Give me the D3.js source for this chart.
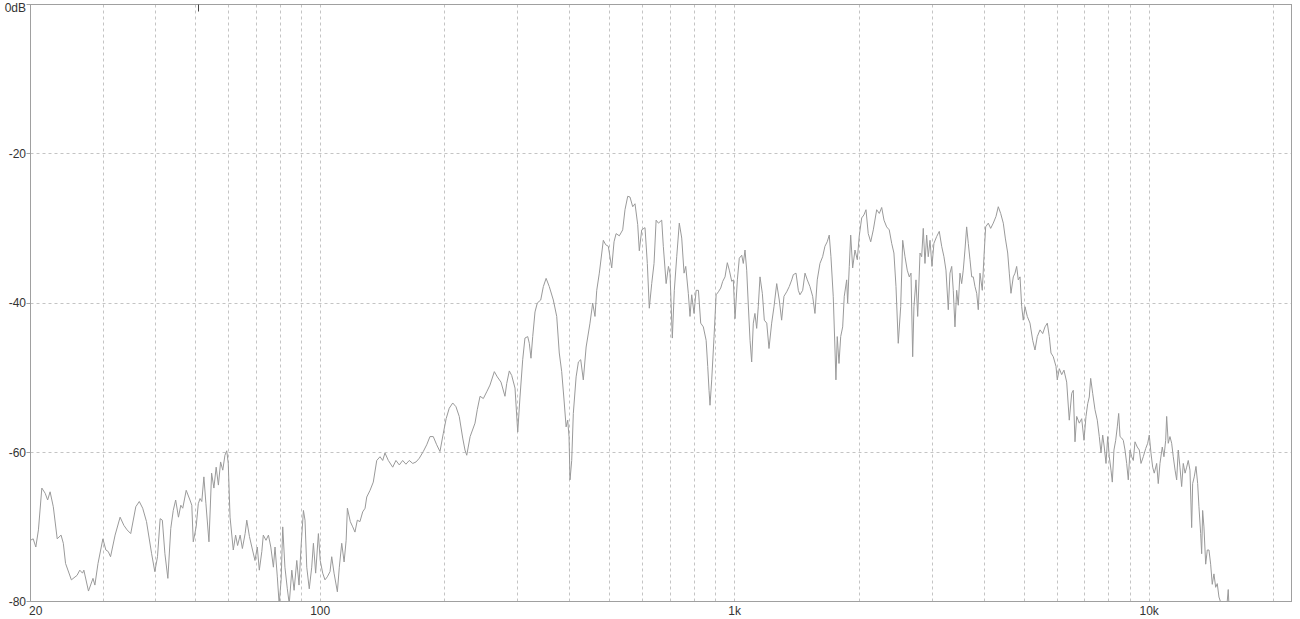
<!DOCTYPE html>
<html><head><meta charset="utf-8">
<script src="https://cdn.jsdelivr.net/npm/d3@7"></script>
<style>html,body{margin:0;padding:0;background:#fff;overflow:hidden}</style>
</head><body>
<svg id="chart" width="1300" height="619"></svg>
<script>
// ---- data ----
const freqDomain = [20, 22050];
const levelDomain = [0, -80];
const yTickValues = [0, -20, -40, -60, -80];
const yTickLabels = ["0dB", "-20", "-40", "-60", "-80"];
const xLabelValues = [20, 100, 1000, 10000];
const xTickLabels = ["20", "100", "1k", "10k"];
const xGridValues = [30,40,50,60,70,80,90,100,200,300,400,500,600,700,800,900,
  1000,2000,3000,4000,5000,6000,7000,8000,9000,10000,20000];
const yGridValues = [-20, -40, -60];
const markerFreq = 50.8;

// [frequency Hz, level dB]
const responseLow = [
[20.0,-71.8],[20.3,-71.6],[20.6,-72.7],[20.9,-70.4],[21.3,-64.8],[21.7,-65.5],[22.0,-66.4],[22.3,-65.3],
[22.7,-67.3],[23.2,-71.6],[23.7,-71.1],[24.0,-72.2],[24.3,-74.9],[25.1,-77.1],[25.9,-76.5],[26.3,-75.8],
[26.7,-76.2],[26.9,-75.8],[27.6,-78.6],[28.3,-76.9],[28.6,-77.8],[29.1,-74.9],[29.9,-71.6],[30.4,-73.1],
[30.8,-73.3],[31.2,-74.0],[32.0,-71.1],[32.9,-68.7],[33.6,-69.8],[34.2,-70.4],[34.9,-70.9],[35.9,-67.3],
[36.6,-66.6],[37.3,-67.5],[38.1,-69.3],[39.2,-73.6],[39.9,-76.0],[40.5,-74.0],[41.1,-68.9],[41.6,-69.1],
[42.2,-73.6],[42.9,-76.9],[43.6,-70.2],[44.2,-67.8],[44.8,-66.4],[45.5,-68.7],[46.1,-67.1],[46.6,-67.5],
[47.5,-65.1],[48.5,-66.4],[49.0,-67.1],[49.4,-72.0],[50.2,-70.0],[50.8,-66.9],[51.3,-66.2],[51.8,-66.6],
[52.4,-63.3],[53.0,-66.9],[53.9,-72.0],[54.7,-62.8],[55.4,-64.8],[56.1,-62.0],[56.8,-64.4],[57.5,-61.3],
[58.2,-62.4],[58.9,-60.4],[59.5,-59.8],[60.0,-61.5],[60.6,-68.7],[61.7,-73.1],[62.5,-71.1],[63.2,-72.5],
[64.1,-71.1],[64.9,-72.9],[65.9,-70.9],[66.5,-69.1],[67.5,-71.3],[68.4,-72.7],[69.6,-74.5],[70.5,-72.7],
[71.3,-75.8],[72.3,-73.3],[72.9,-71.1],[74.0,-71.8],[75.0,-71.1],[76.0,-72.7],[77.1,-75.4],[77.8,-72.7],
[78.8,-76.7],[79.6,-80.3],[80.5,-77.1],[81.2,-70.0],[82.2,-75.4],[83.3,-78.3],[84.2,-80.3],[85.4,-75.8],
[86.5,-78.5],[87.8,-74.5],[88.9,-77.8],[89.9,-72.7],[91.1,-67.8],[91.9,-69.1],[92.8,-75.4],[94.1,-78.3],
[95.4,-75.4],[96.3,-72.2],[97.5,-76.2],[99.0,-70.9],[100.0,-74.5]
];
const responseMid = [
[101.4,-76.2],[102.7,-77.1],[104.0,-76.7],[105.6,-76.0],[106.6,-74.0],[108.0,-76.2],[110.0,-78.7],[111.2,-75.4],
[112.7,-72.2],[114.2,-74.7],[115.5,-71.8],[116.3,-67.5],[118.2,-69.3],[119.8,-70.0],[121.3,-70.7],[122.9,-69.1],
[124.7,-69.3],[126.6,-68.0],[128.3,-67.5],[129.5,-66.0],[131.9,-65.1],[134.3,-64.0],[136.9,-61.1],[139.4,-60.6],
[141.5,-61.1],[143.3,-60.1],[146.0,-61.1],[149.6,-62.0],[152.3,-61.1],[155.2,-61.7],[158.1,-61.1],[161.0,-61.6],
[164.0,-61.1],[167.2,-61.5],[170.3,-61.3],[173.4,-60.8],[177.3,-59.9],[180.7,-59.0],[184.0,-57.9],[187.4,-57.9],
[191.0,-59.0],[194.5,-59.9],[198.1,-57.5],[201.3,-55.5],[204.8,-54.1],[208.8,-53.4],[212.6,-53.9],[216.5,-55.2],
[220.7,-58.1],[223.5,-59.7],[225.7,-60.4],[230.0,-57.9],[236.3,-56.1],[239.3,-54.3],[243.0,-52.5],[247.5,-52.8],
[252.2,-51.9],[256.8,-51.0],[263.1,-49.2],[267.5,-49.9],[273.0,-50.6],[279.1,-52.5],[281.8,-50.8],[285.9,-49.1],
[289.7,-49.7],[295.1,-51.4],[299.6,-57.3],[303.4,-52.6],[308.0,-47.6],[311.9,-44.7],[316.7,-44.5],[319.5,-45.4],
[322.5,-47.4],[325.6,-44.5],[329.8,-41.2],[334.0,-40.0],[340.4,-39.6],[345.4,-37.8],[350.8,-36.7],[357.0,-37.8],
[365.1,-39.6],[372.1,-41.8],[377.4,-46.7],[382.5,-49.2],[387.5,-53.0],[392.0,-56.6],[395.5,-55.7],[398.4,-57.9],
[400.6,-63.7],[404.4,-61.1],[408.0,-54.8],[414.4,-49.9],[419.7,-47.9],[425.1,-47.6],[431.3,-50.3],[438.1,-45.9],
[447.6,-42.7],[454.4,-40.0],[460.2,-41.8],[464.7,-38.3],[471.4,-36.0],[482.0,-31.6],[488.5,-32.2],[495.6,-32.4],
[505.0,-35.3],[511.6,-31.8],[517.5,-30.7],[526.8,-31.0],[536.8,-30.2],[543.7,-27.5],[552.0,-25.7],[559.0,-25.8],
[567.5,-27.1],[574.8,-26.7],[583.5,-29.5],[588.7,-33.0],[596.6,-30.2],[607.6,-29.9],[615.5,-34.7],[622.3,-40.7],
[630.7,-37.4],[638.9,-34.7],[646.3,-28.9],[654.7,-29.3],[666.7,-28.9],[672.7,-32.4],[683.3,-37.4],[692.1,-35.1],
[698.2,-36.0],[707.2,-44.7],[715.1,-38.3],[724.7,-33.8],[735.1,-29.3],[745.1,-31.3],[754.8,-36.0],[761.9,-35.1],
[772.9,-38.7],[780.2,-41.8],[787.6,-38.9],[797.9,-41.4],[807.2,-38.3],[817.6,-38.3],[828.0,-42.7],[840.1,-43.2],
[853.3,-45.0],[860.9,-48.5],[867.2,-51.7],[871.9,-53.7],[880.2,-50.3],[891.7,-44.5],[902.0,-38.9],[913.6,-38.5],
[925.3,-38.0],[935.7,-37.1],[947.7,-36.5],[959.9,-34.6],[970.6,-35.6],[983.7,-37.1],[992.4,-36.9]
];
const responseHigh = [
[1002,-42.1],[1015,-36.9],[1026,-34.0],[1040,-33.6],[1049,-34.7],[1059,-32.9],[1069,-35.6],[1078,-40.0],
[1089,-45.0],[1099,-47.9],[1109,-42.7],[1119,-41.4],[1130,-43.4],[1140,-40.5],[1151,-36.5],[1166,-38.7],
[1179,-42.3],[1195,-42.7],[1210,-46.1],[1228,-42.7],[1244,-40.5],[1263,-37.4],[1281,-39.6],[1298,-42.3],
[1315,-39.1],[1335,-38.5],[1354,-37.8],[1373,-36.9],[1385,-36.2],[1406,-36.0],[1424,-38.3],[1437,-38.9],
[1459,-38.3],[1478,-36.0],[1497,-36.9],[1519,-37.8],[1542,-39.1],[1562,-41.4],[1582,-36.9],[1606,-34.7],
[1630,-33.8],[1651,-32.4],[1672,-31.8],[1691,-30.9],[1707,-33.8],[1729,-39.1],[1746,-46.3],[1755,-50.3],
[1768,-44.5],[1785,-48.1],[1802,-44.5],[1822,-43.2],[1838,-39.1],[1863,-36.9],[1873,-40.0],[1890,-35.1],
[1905,-30.9],[1926,-35.3],[1951,-32.9],[1976,-34.2],[1998,-31.0],[2025,-28.6],[2050,-28.2],[2074,-27.5],
[2100,-30.7],[2129,-31.8],[2160,-30.2],[2201,-27.5],[2233,-28.0],[2263,-27.2],[2292,-28.9],[2326,-29.8],
[2360,-30.2],[2392,-32.0],[2422,-33.3],[2450,-37.8],[2481,-45.4],[2515,-40.5],[2543,-31.6],[2576,-33.8],
[2608,-35.6],[2638,-36.5],[2663,-36.0],[2688,-47.2],[2707,-40.5],[2738,-36.9],[2764,-41.8],[2800,-33.3],
[2826,-33.8],[2851,-30.0],[2878,-34.7],[2905,-30.9],[2931,-33.8],[2960,-31.6],[2992,-35.1],[3025,-32.0],
[3071,-31.1],[3116,-30.4],[3158,-32.4],[3198,-33.8],[3234,-35.6],[3276,-40.9],[3307,-36.0],[3339,-35.1],
[3368,-38.3],[3400,-43.2],[3432,-38.3],[3463,-40.3],[3496,-36.0],[3529,-37.4],[3560,-35.6],[3594,-32.9],
[3628,-29.8],[3661,-32.0],[3696,-34.2],[3731,-36.5],[3764,-36.5],[3800,-37.8],[3836,-38.7],[3870,-40.9],
[3907,-36.0],[3957,-38.3],[3994,-33.8],[4032,-29.8],[4091,-29.3],[4146,-30.0],[4206,-29.3],[4270,-28.4],
[4325,-27.1],[4383,-28.0],[4447,-29.3],[4497,-31.3],[4557,-33.3],[4598,-36.0],[4641,-38.7],[4701,-36.5],
[4746,-36.0],[4790,-35.1],[4833,-36.9],[4880,-36.5],[4926,-40.5],[4969,-42.3],[5017,-40.5],[5081,-41.8],
[5158,-42.7],[5236,-45.0],[5303,-46.3],[5371,-44.5],[5453,-43.6],[5535,-44.1],[5606,-43.2],[5678,-42.7],
[5742,-44.5],[5796,-46.7],[5870,-47.2],[5960,-48.5],[6002,-50.3],[6070,-48.8],[6151,-49.6],[6229,-49.0],
[6324,-50.6],[6416,-55.7],[6503,-52.1],[6560,-51.7],[6623,-58.6],[6686,-55.2],[6783,-56.1],[6874,-55.5],
[6962,-58.4],[7040,-55.2],[7107,-53.5],[7170,-52.6],[7226,-50.1],[7307,-52.1],[7401,-54.3],[7496,-55.7],
[7580,-57.9],[7653,-60.1],[7725,-57.7],[7792,-59.3],[7868,-61.5],[7942,-57.9],[8013,-60.6],[8090,-62.4],
[8148,-64.0],[8224,-59.7],[8303,-58.4],[8377,-56.6],[8442,-54.8],[8505,-57.9],[8585,-58.1],[8661,-58.4],
[8744,-59.7],[8826,-61.5],[8905,-63.7],[8991,-59.7],[9075,-60.6],[9156,-61.1],[9243,-58.6],[9361,-59.3],
[9467,-59.7],[9557,-61.5],[9679,-60.6],[9809,-59.5],[9919,-58.8],[10006,-57.7],[10100,-60.1],[10196,-62.0],
[10287,-62.8],[10425,-61.5],[10518,-64.2],[10619,-61.5],[10755,-59.3],[10856,-60.6],[10961,-58.4],[11021,-55.2],
[11119,-58.8],[11225,-57.9],[11331,-58.8],[11433,-60.6],[11548,-62.4],[11651,-63.7],[11754,-59.7],[11866,-62.0],
[11978,-64.6],[12086,-61.5],[12208,-62.8],[12316,-62.0],[12425,-61.1],[12544,-62.4],[12663,-70.1],[12733,-64.2],
[12846,-63.3],[12970,-61.9],[13092,-64.2],[13186,-67.3],[13312,-70.9],[13386,-73.6],[13460,-67.8],[13557,-70.0],
[13688,-75.0],[13810,-73.1],[13940,-73.1],[14072,-75.0],[14198,-77.7],[14332,-76.3],[14470,-78.1],[14598,-77.6],
[14736,-79.4],[14818,-79.8],[15150,-81.5],[15400,-80.5],[15516,-78.4],[15622,-82.0],[15930,-86.0]
];

// ---- chart ----
const svg = d3.select("#chart");
const plot = {left: 30.5, top: 4.5, right: 1291.5, bottom: 601.5};
const x = d3.scaleLog().domain(freqDomain).range([plot.left, plot.right]);
const y = d3.scaleLinear().domain(levelDomain).range([plot.top, plot.bottom]);
const snap = v => Math.floor(v) + 0.5;
const FONT = "'Liberation Sans','DejaVu Sans',sans-serif";

svg.append("rect").attr("width", 1300).attr("height", 619).attr("fill", "#fff");

// grid
const grid = svg.append("g").attr("stroke", "#c4c4c4").attr("stroke-width", 1)
  .attr("stroke-dasharray", "3,3").attr("fill", "none");
grid.selectAll("line.v").data(xGridValues).join("line").attr("class", "v")
  .attr("x1", d => snap(x(d))).attr("x2", d => snap(x(d)))
  .attr("y1", plot.top).attr("y2", plot.bottom);
grid.selectAll("line.h").data(yGridValues).join("line").attr("class", "h")
  .attr("x1", plot.left).attr("x2", plot.right)
  .attr("y1", d => snap(y(d))).attr("y2", d => snap(y(d)));

// clip
svg.append("clipPath").attr("id", "clip").append("rect")
  .attr("x", plot.left).attr("y", plot.top)
  .attr("width", plot.right - plot.left).attr("height", plot.bottom - plot.top);

const response = responseLow.concat(responseMid, responseHigh);
const line = d3.line().x(d => x(d[0])).y(d => y(d[1]));
svg.append("path").datum(response).attr("clip-path", "url(#clip)")
  .attr("d", line).attr("fill", "none").attr("stroke", "#9a9a9a")
  .attr("stroke-width", 1).attr("stroke-linejoin", "round");

// frame
svg.append("rect").attr("x", plot.left).attr("y", plot.top)
  .attr("width", plot.right - plot.left).attr("height", plot.bottom - plot.top)
  .attr("fill", "none").attr("stroke", "#a0a0a0").attr("stroke-width", 1);

// marker
svg.append("line").attr("x1", snap(x(markerFreq))).attr("x2", snap(x(markerFreq)))
  .attr("y1", plot.top).attr("y2", plot.top + 7)
  .attr("stroke", "#444").attr("stroke-width", 1);

// y axis ticks + labels
const yAxis = svg.append("g");
yAxis.selectAll("line").data(yTickValues).join("line")
  .attr("x1", plot.left - 4).attr("x2", plot.left)
  .attr("y1", d => snap(y(d))).attr("y2", d => snap(y(d)))
  .attr("stroke", "#a0a0a0");
yAxis.selectAll("text").data(yTickValues).join("text")
  .attr("x", plot.left - 4.5)
  .attr("y", d => Math.max(y(d) + 4.3, 11.5))
  .attr("text-anchor", "end")
  .attr("font-family", FONT).attr("font-size", 12).attr("fill", "#333")
  .text((d, i) => yTickLabels[i]);

// x labels
svg.append("g").selectAll("text").data(xLabelValues).join("text")
  .attr("x", (d, i) => i === 0 ? plot.left - 1.5 : x(d))
  .attr("y", plot.bottom + 13.5)
  .attr("text-anchor", (d, i) => i === 0 ? "start" : "middle")
  .attr("font-family", FONT).attr("font-size", 12).attr("fill", "#333")
  .text((d, i) => xTickLabels[i]);
</script>
</body></html>
